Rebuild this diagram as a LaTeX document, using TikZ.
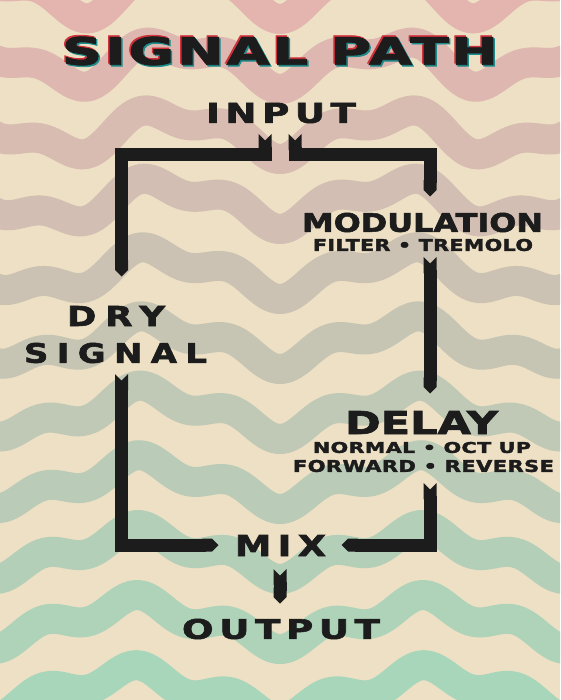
\documentclass[tikz,border=0pt]{standalone}
\usepackage{fontspec}
\usepackage{graphicx}
\usepackage{tikz}
\usetikzlibrary{arrows.meta}
\usetikzlibrary{positioning}
\setmainfont{DejaVu Sans}
\newfontfamily\pathfont[FakeBold=2]{DejaVu Sans}
\definecolor{paper}{HTML}{EDE0C4}
\definecolor{pinkband}{HTML}{E4B4AF}
\definecolor{greenband}{HTML}{A8D6BA}
\definecolor{ink}{HTML}{1C1C1C}
\definecolor{glitchred}{HTML}{D0303A}
\definecolor{glitchcyan}{HTML}{1E8C8C}
% squeeze a label into its box: width, cap height, letter spacing, text
\newcommand{\fitlbl}[4]{\resizebox{#1pt}{#2pt}{\pathfont\bfseries\addfontfeature{LetterSpace=#3}#4}}

\begin{document}
\begin{tikzpicture}[x=1pt,y=-1pt]
  % some styles
  \tikzset{
    lbl/.style={inner sep=0pt, outer sep=0pt, text=ink},
    pipe/.style={
      draw=ink,
      line width=13pt,
      line join=miter,
      {Triangle Cap[reversed]}-{Triangle Cap}
    }
  }

\useasboundingbox (0,0) rectangle (560,700);

% paper and waves
\begin{scope}
\clip (0,0) rectangle (560,700);
\fill[paper] (0,0) rectangle (560,700);
\foreach \k in {0,...,10} {
  \pgfmathtruncatemacro{\mixv}{100-10*\k}
  \pgfmathsetmacro{\per}{200+10*\k}
  \draw[line width=30pt, color=pinkband!\mixv!greenband]
    plot[domain=-20:580, samples=120, smooth]
    (\x,{-8+70*\k+18*cos((\x-280)/\per*360)+9*cos((\x-280)/95*360)});
}
\end{scope}

% title with colour fringes
\node[lbl, text=glitchred] (titlered) at (278.5,49.5) {\fitlbl{436}{28}{5}{SIGNAL PATH}};
\node[lbl, text=glitchcyan] (titlecyan) at (281.5,52.5) {\fitlbl{436}{28}{5}{SIGNAL PATH}};
\node[lbl] (title) at (280,51) {\fitlbl{436}{28}{5}{SIGNAL PATH}};

% stages
\node[lbl] (input) at (281,113) {\fitlbl{150}{20}{15}{INPUT}};
\node[lbl] (mod) at (422.5,222.5) {\fitlbl{241}{19}{0}{MODULATION}};
\node[lbl] (modsub) at (423,245) {\fitlbl{220}{12}{2}{FILTER • TREMOLO}};
\node[lbl] (delay) at (421.5,422.5) {\fitlbl{153}{23}{0}{DELAY}};
\node[lbl] (dlysubA) at (422,447.5) {\fitlbl{218}{11}{2}{NORMAL • OCT UP}};
\node[lbl] (dlysubB) at (423.5,466) {\fitlbl{261}{12}{2}{FORWARD • REVERSE}};
\node[lbl] (dry) at (116,316) {\fitlbl{98}{20}{25}{DRY}};
\node[lbl] (signal) at (115.5,353) {\fitlbl{183}{20}{25}{SIGNAL}};
\node[lbl] (mix) at (280.5,545.5) {\fitlbl{91}{21}{18}{MIX}};
\node[lbl] (output) at (281,629) {\fitlbl{198}{20}{15}{OUTPUT}};

% bar ends
\coordinate (topbar) at (0,155);
\coordinate (botbar) at (0,545);
\coordinate (inl) at (265,134);
\coordinate (inr) at (295,134);
\coordinate (dryin) at (121.5,276.5);
\coordinate (dryout) at (121.5,374);
\coordinate (modin) at (430,196.5);
\coordinate (modout) at (430,257);
\coordinate (dlyin) at (430,393.5);
\coordinate (dlyout) at (430,483);
\coordinate (mixl) at (218.5,545);
\coordinate (mixr) at (341.5,545);
\coordinate (mixout) at (280,569);
\coordinate (outin) at (280,603.5);

\draw[pipe] (inl) -- (inl |- topbar) -| (dryin);
\draw[pipe] (inr) -- (inr |- topbar) -| (modin);
\draw[pipe] (modout) -- (dlyin);
\draw[pipe] (dryout) |- (mixl);
\draw[pipe] (dlyout) |- (mixr);
\draw[pipe] (mixout) -- (outin);

\end{tikzpicture}
\end{document}
